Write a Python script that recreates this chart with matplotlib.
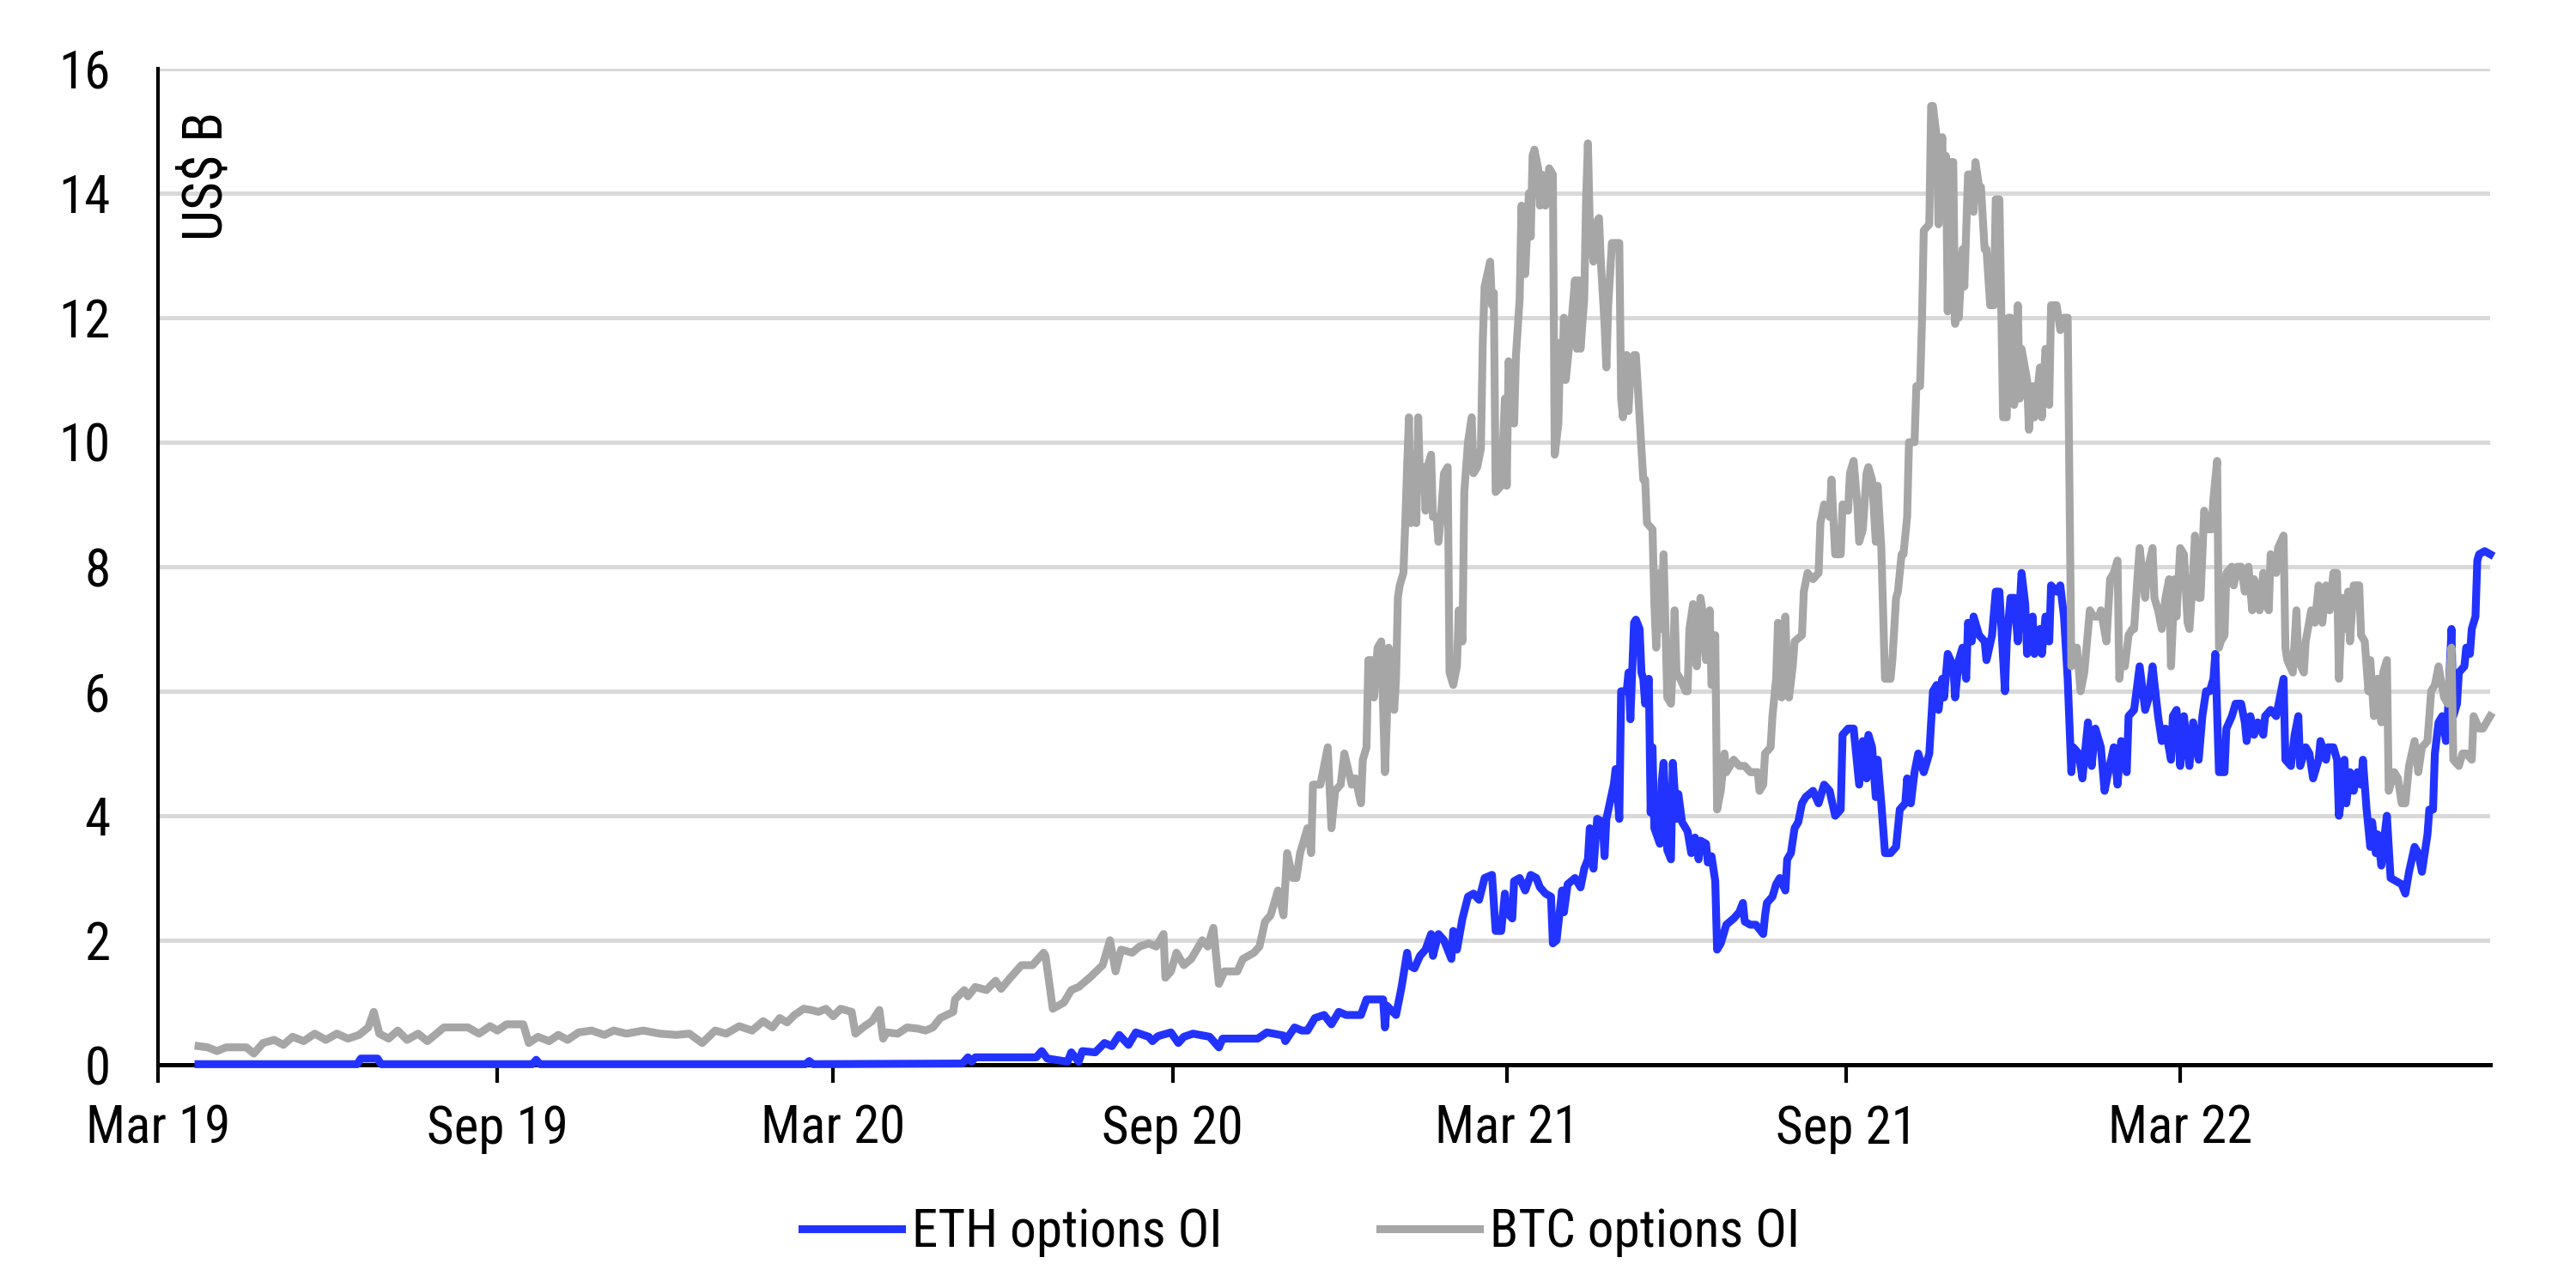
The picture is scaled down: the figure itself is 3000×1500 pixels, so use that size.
import pandas as pd
import matplotlib.pyplot as plt
import matplotlib.dates as mdates

plt.rcParams['font.family'] = ['Liberation Sans Narrow', 'Nimbus Sans Narrow', 'Roboto Condensed',
                               'Liberation Sans', 'DejaVu Sans']

# ETH options open interest, US$ bn
eth_dates = [
    '2019-03-23', '2019-06-17', '2019-06-19', '2019-06-28', '2019-06-30', '2019-09-20', '2019-09-22', '2019-09-24',
    '2020-02-15', '2020-02-17', '2020-02-19', '2020-05-10', '2020-05-13', '2020-05-15', '2020-05-17', '2020-06-19',
    '2020-06-22', '2020-06-25', '2020-07-06', '2020-07-08', '2020-07-12', '2020-07-14', '2020-07-21', '2020-07-26',
    '2020-07-30', '2020-08-03', '2020-08-08', '2020-08-12', '2020-08-19', '2020-08-21', '2020-08-24', '2020-08-31',
    '2020-09-04', '2020-09-07', '2020-09-12', '2020-09-21', '2020-09-26', '2020-09-28', '2020-10-17', '2020-10-22',
    '2020-10-31', '2020-11-01', '2020-11-06', '2020-11-10', '2020-11-13', '2020-11-17', '2020-11-22', '2020-11-26',
    '2020-11-30', '2020-12-04', '2020-12-12', '2020-12-15', '2020-12-24', '2020-12-25', '2020-12-26', '2020-12-31',
    '2021-01-03', '2021-01-06', '2021-01-07', '2021-01-10', '2021-01-13', '2021-01-16', '2021-01-19', '2021-01-20',
    '2021-01-23', '2021-01-26', '2021-01-30', '2021-01-31', '2021-02-02', '2021-02-05', '2021-02-08', '2021-02-11',
    '2021-02-14', '2021-02-17', '2021-02-21', '2021-02-23', '2021-02-26', '2021-02-28', '2021-03-01', '2021-03-04',
    '2021-03-05', '2021-03-08', '2021-03-11', '2021-03-14', '2021-03-17', '2021-03-19', '2021-03-22', '2021-03-25',
    '2021-03-26', '2021-03-28', '2021-03-31', '2021-04-01', '2021-04-03', '2021-04-05', '2021-04-07', '2021-04-10',
    '2021-04-12', '2021-04-14', '2021-04-15', '2021-04-17', '2021-04-19', '2021-04-22', '2021-04-23', '2021-04-24',
    '2021-04-28', '2021-04-29', '2021-05-01', '2021-05-02', '2021-05-05', '2021-05-06', '2021-05-07', '2021-05-09',
    '2021-05-10', '2021-05-12', '2021-05-13', '2021-05-14', '2021-05-15', '2021-05-17', '2021-05-18', '2021-05-19',
    '2021-05-20', '2021-05-23', '2021-05-24', '2021-05-25', '2021-05-27', '2021-05-29', '2021-05-30', '2021-06-01',
    '2021-06-02', '2021-06-04', '2021-06-07', '2021-06-09', '2021-06-11', '2021-06-13', '2021-06-14', '2021-06-17',
    '2021-06-18', '2021-06-20', '2021-06-22', '2021-06-23', '2021-06-25', '2021-06-28', '2021-07-02', '2021-07-05',
    '2021-07-07', '2021-07-08', '2021-07-11', '2021-07-14', '2021-07-18', '2021-07-19', '2021-07-20', '2021-07-23',
    '2021-07-25', '2021-07-27', '2021-07-30', '2021-07-31', '2021-08-02', '2021-08-04', '2021-08-06', '2021-08-08',
    '2021-08-10', '2021-08-14', '2021-08-17', '2021-08-20', '2021-08-23', '2021-08-26', '2021-08-29', '2021-08-30',
    '2021-09-02', '2021-09-05', '2021-09-08', '2021-09-10', '2021-09-12', '2021-09-13', '2021-09-15', '2021-09-17',
    '2021-09-18', '2021-09-20', '2021-09-22', '2021-09-25', '2021-09-28', '2021-09-30', '2021-10-03', '2021-10-04',
    '2021-10-06', '2021-10-08', '2021-10-10', '2021-10-13', '2021-10-16', '2021-10-17', '2021-10-18', '2021-10-20',
    '2021-10-21', '2021-10-23', '2021-10-24', '2021-10-26', '2021-10-29', '2021-10-30', '2021-11-01', '2021-11-03',
    '2021-11-05', '2021-11-06', '2021-11-08', '2021-11-09', '2021-11-12', '2021-11-15', '2021-11-16', '2021-11-19',
    '2021-11-21', '2021-11-23', '2021-11-26', '2021-11-27', '2021-11-29', '2021-12-01', '2021-12-03', '2021-12-05',
    '2021-12-07', '2021-12-08', '2021-12-11', '2021-12-12', '2021-12-15', '2021-12-16', '2021-12-18', '2021-12-20',
    '2021-12-21', '2021-12-24', '2021-12-26', '2021-12-28', '2021-12-30', '2022-01-01', '2022-01-02', '2022-01-05',
    '2022-01-07', '2022-01-10', '2022-01-12', '2022-01-14', '2022-01-17', '2022-01-19', '2022-01-21', '2022-01-24',
    '2022-01-26', '2022-01-28', '2022-01-31', '2022-02-01', '2022-02-04', '2022-02-07', '2022-02-10', '2022-02-12',
    '2022-02-14', '2022-02-17', '2022-02-19', '2022-02-21', '2022-02-24', '2022-02-25', '2022-02-27', '2022-03-01',
    '2022-03-03', '2022-03-06', '2022-03-08', '2022-03-11', '2022-03-13', '2022-03-15', '2022-03-17', '2022-03-19',
    '2022-03-20', '2022-03-22', '2022-03-25', '2022-03-26', '2022-03-29', '2022-03-31', '2022-04-03', '2022-04-05',
    '2022-04-06', '2022-04-08', '2022-04-10', '2022-04-12', '2022-04-15', '2022-04-16', '2022-04-19', '2022-04-22',
    '2022-04-24', '2022-04-26', '2022-04-27', '2022-04-30', '2022-05-02', '2022-05-04', '2022-05-05', '2022-05-08',
    '2022-05-10', '2022-05-12', '2022-05-15', '2022-05-16', '2022-05-19', '2022-05-20', '2022-05-23', '2022-05-25',
    '2022-05-26', '2022-05-27', '2022-05-29', '2022-05-30', '2022-06-01', '2022-06-03', '2022-06-05', '2022-06-07',
    '2022-06-08', '2022-06-10', '2022-06-12', '2022-06-13', '2022-06-15', '2022-06-16', '2022-06-18', '2022-06-19',
    '2022-06-21', '2022-06-23', '2022-06-26', '2022-06-29', '2022-07-01', '2022-07-03', '2022-07-06', '2022-07-08',
    '2022-07-10', '2022-07-12', '2022-07-13', '2022-07-14', '2022-07-16', '2022-07-17', '2022-07-19', '2022-07-21',
    '2022-07-23', '2022-07-24', '2022-07-26', '2022-07-27', '2022-07-29', '2022-07-30', '2022-08-02', '2022-08-03',
    '2022-08-05', '2022-08-06', '2022-08-08', '2022-08-09', '2022-08-10', '2022-08-13', '2022-08-16',
]
eth_oi = [
    0.01, 0.01, 0.10, 0.10, 0.01, 0.01, 0.08, 0.01,
    0.01, 0.06, 0.01, 0.02, 0.12, 0.05, 0.12, 0.12,
    0.22, 0.10, 0.05, 0.20, 0.05, 0.22, 0.20, 0.35,
    0.30, 0.48, 0.32, 0.52, 0.45, 0.38, 0.46, 0.52,
    0.35, 0.45, 0.50, 0.45, 0.28, 0.42, 0.42, 0.52,
    0.47, 0.38, 0.60, 0.55, 0.55, 0.75, 0.80, 0.65,
    0.85, 0.80, 0.80, 1.05, 1.05, 0.60, 0.95, 0.80,
    1.25, 1.80, 1.60, 1.55, 1.75, 1.85, 2.10, 1.75,
    2.10, 2.00, 1.70, 2.15, 1.85, 2.35, 2.70, 2.75,
    2.65, 3.00, 3.05, 2.15, 2.15, 2.75, 2.45, 2.35,
    2.95, 3.00, 2.80, 3.05, 3.00, 2.85, 2.75, 2.70,
    1.95, 2.00, 2.80, 2.45, 2.90, 2.95, 3.00, 2.85,
    3.15, 3.30, 3.80, 3.15, 3.95, 3.90, 3.35, 3.95,
    4.50, 4.75, 3.95, 6.00, 6.00, 6.30, 5.55, 7.10,
    7.15, 7.00, 6.30, 6.20, 5.80, 6.20, 4.05, 5.10,
    3.80, 3.55, 4.55, 4.85, 3.45, 3.30, 4.85, 3.95,
    4.35, 3.90, 3.75, 3.40, 3.65, 3.30, 3.60, 3.55,
    3.25, 3.35, 2.95, 1.85, 1.95, 2.25, 2.35, 2.45,
    2.60, 2.30, 2.25, 2.25, 2.10, 2.40, 2.60, 2.70,
    2.90, 3.00, 2.80, 3.30, 3.40, 3.80, 3.90, 4.20,
    4.30, 4.40, 4.20, 4.50, 4.40, 4.00, 4.10, 5.30,
    5.40, 5.40, 4.50, 5.20, 4.60, 5.30, 5.10, 4.30,
    4.90, 4.20, 3.40, 3.40, 3.50, 4.10, 4.20, 4.60,
    4.20, 4.70, 5.00, 4.70, 5.00, 5.50, 6.00, 6.10,
    5.70, 6.20, 5.90, 6.60, 6.40, 5.90, 6.50, 6.70,
    6.20, 7.10, 6.80, 7.20, 6.90, 6.80, 6.50, 6.90,
    7.60, 7.60, 6.00, 6.80, 7.50, 7.50, 6.80, 7.90,
    7.40, 6.60, 7.20, 6.60, 7.00, 6.60, 7.20, 6.80,
    7.70, 7.60, 7.70, 7.20, 6.20, 4.70, 5.10, 5.00,
    4.60, 5.50, 4.80, 5.40, 5.10, 4.40, 4.70, 5.10,
    4.50, 5.20, 4.70, 5.60, 5.70, 6.40, 5.70, 5.90,
    6.40, 5.60, 5.20, 5.40, 4.90, 5.60, 5.70, 4.80,
    5.60, 4.80, 5.50, 4.90, 5.60, 6.00, 6.00, 6.20,
    6.60, 4.70, 4.70, 5.40, 5.60, 5.80, 5.80, 5.50,
    5.20, 5.60, 5.30, 5.50, 5.30, 5.60, 5.70, 5.60,
    5.90, 6.20, 4.90, 4.80, 5.30, 5.60, 4.80, 5.10,
    5.00, 4.60, 4.90, 5.20, 4.90, 5.10, 5.10, 4.90,
    4.00, 4.20, 4.90, 4.20, 4.70, 4.40, 4.70, 4.50,
    4.90, 4.10, 3.50, 3.90, 3.40, 3.70, 3.20, 3.50,
    4.00, 3.00, 2.95, 2.90, 2.75, 3.10, 3.50, 3.40,
    3.10, 3.50, 3.70, 4.10, 4.10, 5.00, 5.50, 5.60,
    5.20, 5.60, 7.00, 5.60, 5.80, 6.30, 6.40, 6.70,
    6.60, 7.00, 7.20, 8.10, 8.20, 8.25, 8.20,
]

# BTC options open interest, US$ bn
btc_dates = [
    '2019-03-23', '2019-03-28', '2019-04-02', '2019-04-07', '2019-04-18', '2019-04-22', '2019-04-27', '2019-05-03',
    '2019-05-08', '2019-05-13', '2019-05-19', '2019-05-25', '2019-05-31', '2019-06-06', '2019-06-12', '2019-06-18',
    '2019-06-23', '2019-06-26', '2019-06-29', '2019-07-04', '2019-07-09', '2019-07-14', '2019-07-20', '2019-07-25',
    '2019-07-30', '2019-08-03', '2019-08-16', '2019-08-22', '2019-08-28', '2019-09-01', '2019-09-06', '2019-09-15',
    '2019-09-18', '2019-09-23', '2019-09-29', '2019-10-04', '2019-10-09', '2019-10-15', '2019-10-22', '2019-10-29',
    '2019-11-03', '2019-11-10', '2019-11-19', '2019-11-28', '2019-12-07', '2019-12-14', '2019-12-21', '2019-12-28',
    '2020-01-03', '2020-01-10', '2020-01-17', '2020-01-23', '2020-01-28', '2020-02-01', '2020-02-05', '2020-02-09',
    '2020-02-14', '2020-02-18', '2020-02-22', '2020-02-26', '2020-03-01', '2020-03-05', '2020-03-11', '2020-03-13',
    '2020-03-18', '2020-03-22', '2020-03-26', '2020-03-28', '2020-03-30', '2020-04-05', '2020-04-10', '2020-04-16',
    '2020-04-20', '2020-04-24', '2020-04-28', '2020-05-05', '2020-05-06', '2020-05-11', '2020-05-13', '2020-05-17',
    '2020-05-23', '2020-05-28', '2020-05-31', '2020-06-05', '2020-06-11', '2020-06-17', '2020-06-23', '2020-06-24',
    '2020-06-28', '2020-07-04', '2020-07-08', '2020-07-12', '2020-07-18', '2020-07-25', '2020-07-29', '2020-08-01',
    '2020-08-04', '2020-08-10', '2020-08-14', '2020-08-19', '2020-08-23', '2020-08-27', '2020-08-28', '2020-08-31',
    '2020-09-03', '2020-09-07', '2020-09-11', '2020-09-17', '2020-09-20', '2020-09-23', '2020-09-26', '2020-09-29',
    '2020-10-06', '2020-10-09', '2020-10-15', '2020-10-18', '2020-10-21', '2020-10-24', '2020-10-28', '2020-10-31',
    '2020-11-02', '2020-11-05', '2020-11-07', '2020-11-09', '2020-11-13', '2020-11-15', '2020-11-16', '2020-11-20',
    '2020-11-24', '2020-11-26', '2020-11-28', '2020-12-01', '2020-12-03', '2020-12-07', '2020-12-09', '2020-12-12',
    '2020-12-13', '2020-12-15', '2020-12-16', '2020-12-18', '2020-12-19', '2020-12-21', '2020-12-23', '2020-12-25',
    '2020-12-26', '2020-12-27', '2020-12-30', '2020-12-31', '2021-01-01', '2021-01-02', '2021-01-04', '2021-01-05',
    '2021-01-06', '2021-01-07', '2021-01-08', '2021-01-10', '2021-01-11', '2021-01-12', '2021-01-13', '2021-01-15',
    '2021-01-16', '2021-01-17', '2021-01-19', '2021-01-20', '2021-01-22', '2021-01-23', '2021-01-24', '2021-01-26',
    '2021-01-28', '2021-01-29', '2021-01-31', '2021-02-02', '2021-02-03', '2021-02-05', '2021-02-06', '2021-02-08',
    '2021-02-10', '2021-02-11', '2021-02-13', '2021-02-15', '2021-02-16', '2021-02-17', '2021-02-20', '2021-02-21',
    '2021-02-22', '2021-02-23', '2021-02-26', '2021-02-28', '2021-03-01', '2021-03-02', '2021-03-04', '2021-03-05',
    '2021-03-06', '2021-03-08', '2021-03-09', '2021-03-11', '2021-03-13', '2021-03-14', '2021-03-15', '2021-03-16',
    '2021-03-18', '2021-03-19', '2021-03-20', '2021-03-22', '2021-03-24', '2021-03-26', '2021-03-27', '2021-03-29',
    '2021-03-30', '2021-03-31', '2021-04-01', '2021-04-02', '2021-04-03', '2021-04-05', '2021-04-07', '2021-04-08',
    '2021-04-09', '2021-04-10', '2021-04-12', '2021-04-13', '2021-04-14', '2021-04-15', '2021-04-17', '2021-04-18',
    '2021-04-20', '2021-04-21', '2021-04-23', '2021-04-24', '2021-04-25', '2021-04-27', '2021-05-01', '2021-05-02',
    '2021-05-03', '2021-05-05', '2021-05-06', '2021-05-07', '2021-05-09', '2021-05-10', '2021-05-12', '2021-05-14',
    '2021-05-15', '2021-05-16', '2021-05-19', '2021-05-20', '2021-05-21', '2021-05-23', '2021-05-24', '2021-05-25',
    '2021-05-27', '2021-05-29', '2021-05-30', '2021-05-31', '2021-06-01', '2021-06-03', '2021-06-06', '2021-06-07',
    '2021-06-08', '2021-06-10', '2021-06-12', '2021-06-14', '2021-06-15', '2021-06-17', '2021-06-19', '2021-06-20',
    '2021-06-22', '2021-06-23', '2021-06-25', '2021-06-27', '2021-06-28', '2021-07-02', '2021-07-05', '2021-07-08',
    '2021-07-11', '2021-07-15', '2021-07-16', '2021-07-18', '2021-07-19', '2021-07-22', '2021-07-23', '2021-07-25',
    '2021-07-26', '2021-07-28', '2021-07-30', '2021-07-31', '2021-08-01', '2021-08-03', '2021-08-04', '2021-08-08',
    '2021-08-09', '2021-08-11', '2021-08-14', '2021-08-17', '2021-08-18', '2021-08-20', '2021-08-23', '2021-08-24',
    '2021-08-26', '2021-08-29', '2021-08-30', '2021-09-02', '2021-09-03', '2021-09-05', '2021-09-07', '2021-09-08',
    '2021-09-10', '2021-09-12', '2021-09-13', '2021-09-15', '2021-09-17', '2021-09-18', '2021-09-20', '2021-09-22',
    '2021-09-25', '2021-09-26', '2021-09-28', '2021-09-29', '2021-10-01', '2021-10-02', '2021-10-04', '2021-10-05',
    '2021-10-08', '2021-10-09', '2021-10-11', '2021-10-12', '2021-10-13', '2021-10-16', '2021-10-17', '2021-10-18',
    '2021-10-20', '2021-10-21', '2021-10-23', '2021-10-24', '2021-10-25', '2021-10-26', '2021-10-27', '2021-10-29',
    '2021-10-30', '2021-10-31', '2021-11-01', '2021-11-03', '2021-11-04', '2021-11-06', '2021-11-08', '2021-11-09',
    '2021-11-10', '2021-11-12', '2021-11-13', '2021-11-15', '2021-11-16', '2021-11-18', '2021-11-20', '2021-11-21',
    '2021-11-23', '2021-11-25', '2021-11-27', '2021-11-28', '2021-11-29', '2021-12-01', '2021-12-03', '2021-12-04',
    '2021-12-05', '2021-12-08', '2021-12-09', '2021-12-11', '2021-12-12', '2021-12-15', '2021-12-16', '2021-12-18',
    '2021-12-20', '2021-12-21', '2021-12-24', '2021-12-26', '2021-12-28', '2021-12-30', '2022-01-01', '2022-01-02',
    '2022-01-04', '2022-01-06', '2022-01-08', '2022-01-11', '2022-01-13', '2022-01-16', '2022-01-17', '2022-01-20',
    '2022-01-22', '2022-01-24', '2022-01-26', '2022-01-27', '2022-01-28', '2022-01-30', '2022-02-01', '2022-02-03',
    '2022-02-04', '2022-02-06', '2022-02-07', '2022-02-10', '2022-02-11', '2022-02-14', '2022-02-15', '2022-02-17',
    '2022-02-19', '2022-02-21', '2022-02-23', '2022-02-24', '2022-02-26', '2022-02-27', '2022-03-01', '2022-03-03',
    '2022-03-05', '2022-03-06', '2022-03-08', '2022-03-09', '2022-03-11', '2022-03-12', '2022-03-14', '2022-03-16',
    '2022-03-18', '2022-03-19', '2022-03-21', '2022-03-22', '2022-03-23', '2022-03-25', '2022-03-26', '2022-03-29',
    '2022-03-30', '2022-04-01', '2022-04-03', '2022-04-05', '2022-04-07', '2022-04-09', '2022-04-10', '2022-04-12',
    '2022-04-13', '2022-04-15', '2022-04-16', '2022-04-18', '2022-04-19', '2022-04-20', '2022-04-22', '2022-04-23',
    '2022-04-26', '2022-04-27', '2022-04-28', '2022-05-01', '2022-05-02', '2022-05-03', '2022-05-04', '2022-05-07',
    '2022-05-08', '2022-05-11', '2022-05-13', '2022-05-15', '2022-05-17', '2022-05-19', '2022-05-21', '2022-05-23',
    '2022-05-25', '2022-05-26', '2022-05-28', '2022-05-29', '2022-05-31', '2022-06-01', '2022-06-03', '2022-06-06',
    '2022-06-07', '2022-06-09', '2022-06-11', '2022-06-12', '2022-06-14', '2022-06-16', '2022-06-18', '2022-06-19',
    '2022-06-21', '2022-06-22', '2022-06-25', '2022-06-27', '2022-06-29', '2022-07-01', '2022-07-03', '2022-07-06',
    '2022-07-08', '2022-07-10', '2022-07-13', '2022-07-15', '2022-07-17', '2022-07-19', '2022-07-22', '2022-07-24',
    '2022-07-26', '2022-07-27', '2022-07-30', '2022-08-01', '2022-08-03', '2022-08-06', '2022-08-07', '2022-08-10',
    '2022-08-12', '2022-08-14', '2022-08-16',
]
btc_oi = [
    0.30, 0.28, 0.22, 0.28, 0.28, 0.18, 0.35, 0.40,
    0.32, 0.45, 0.38, 0.50, 0.40, 0.50, 0.42, 0.48,
    0.60, 0.85, 0.50, 0.42, 0.55, 0.40, 0.50, 0.38,
    0.50, 0.60, 0.60, 0.50, 0.62, 0.55, 0.65, 0.65,
    0.35, 0.45, 0.38, 0.48, 0.40, 0.52, 0.55, 0.48,
    0.55, 0.50, 0.55, 0.50, 0.48, 0.50, 0.35, 0.55,
    0.50, 0.62, 0.55, 0.70, 0.60, 0.75, 0.68, 0.80,
    0.90, 0.88, 0.85, 0.90, 0.78, 0.90, 0.85, 0.50,
    0.62, 0.70, 0.88, 0.42, 0.52, 0.50, 0.60, 0.58,
    0.55, 0.60, 0.75, 0.85, 1.05, 1.20, 1.10, 1.25,
    1.20, 1.35, 1.22, 1.40, 1.60, 1.60, 1.80, 1.75,
    0.90, 1.00, 1.20, 1.25, 1.40, 1.60, 2.00, 1.50,
    1.85, 1.80, 1.90, 1.95, 1.90, 2.10, 1.40, 1.50,
    1.80, 1.60, 1.70, 2.00, 1.90, 2.20, 1.30, 1.50,
    1.50, 1.70, 1.80, 1.90, 2.30, 2.40, 2.80, 2.40,
    3.40, 3.00, 3.00, 3.40, 3.80, 3.40, 4.50, 4.50,
    5.10, 3.80, 4.40, 4.50, 5.00, 4.50, 4.60, 4.20,
    4.90, 5.10, 6.50, 6.50, 5.90, 6.70, 6.80, 4.70,
    5.50, 6.70, 5.70, 6.20, 7.50, 7.70, 7.90, 8.70,
    9.60, 10.40, 8.70, 9.80, 8.70, 10.40, 9.40, 9.60,
    8.90, 9.60, 9.80, 8.80, 8.80, 8.40, 8.70, 9.50,
    9.60, 6.30, 6.10, 6.40, 7.30, 6.80, 9.20, 10.00,
    10.40, 9.50, 9.60, 9.90, 11.60, 12.50, 12.90, 12.20,
    12.40, 9.20, 9.30, 10.70, 9.30, 11.30, 10.50, 10.30,
    11.40, 12.30, 13.80, 12.70, 14.00, 13.30, 14.60, 14.70,
    14.40, 13.80, 14.30, 13.80, 14.40, 14.30, 9.80, 10.30,
    11.60, 11.00, 12.00, 11.00, 11.30, 11.90, 12.60, 11.50,
    12.60, 11.50, 12.30, 13.90, 14.80, 13.50, 12.90, 13.50,
    13.60, 12.90, 11.90, 11.20, 12.20, 13.20, 13.20, 10.70,
    10.40, 11.40, 10.50, 11.10, 11.40, 11.40, 10.40, 9.40,
    9.40, 8.70, 8.60, 7.40, 6.70, 7.90, 7.00, 8.20,
    5.90, 5.80, 6.40, 7.30, 6.30, 6.20, 6.00, 6.00,
    7.00, 7.40, 6.40, 7.50, 7.30, 6.50, 7.30, 6.10,
    6.90, 4.10, 4.40, 5.00, 4.70, 4.90, 4.80, 4.80,
    4.70, 4.70, 4.40, 4.50, 5.00, 5.10, 5.60, 6.20,
    7.10, 5.90, 7.20, 6.20, 5.90, 6.40, 6.80, 6.90,
    7.60, 7.90, 7.80, 7.90, 8.70, 9.00, 8.80, 9.40,
    8.20, 8.20, 9.00, 8.90, 9.50, 9.70, 9.00, 8.40,
    8.60, 9.50, 9.60, 9.40, 8.40, 9.30, 8.30, 6.20,
    6.20, 6.50, 7.50, 7.60, 8.20, 8.20, 8.80, 10.00,
    10.00, 10.90, 10.90, 11.90, 13.40, 13.50, 15.40, 15.40,
    14.90, 13.50, 14.90, 13.80, 14.60, 12.10, 14.50, 14.50,
    11.90, 13.00, 12.00, 13.10, 12.50, 14.30, 14.30, 13.70,
    14.50, 14.10, 14.10, 13.10, 13.10, 12.20, 12.20, 13.90,
    13.90, 10.40, 10.40, 12.00, 12.00, 10.60, 12.20, 10.70,
    11.50, 11.00, 10.20, 10.90, 10.40, 11.20, 10.40, 11.50,
    10.60, 12.20, 12.20, 11.80, 12.00, 12.00, 6.40, 6.70,
    6.70, 6.00, 6.30, 7.30, 7.20, 7.20, 7.30, 6.80,
    7.80, 7.90, 8.10, 6.20, 6.50, 6.40, 6.90, 7.00,
    7.00, 7.90, 8.30, 7.50, 7.90, 8.30, 7.50, 7.30,
    7.00, 7.50, 7.80, 6.40, 7.80, 7.20, 8.30, 8.20,
    7.10, 7.00, 7.90, 8.50, 7.50, 7.50, 8.90, 8.60,
    8.60, 9.10, 9.70, 6.70, 6.80, 6.90, 7.90, 8.00,
    7.70, 8.00, 8.00, 7.60, 8.00, 7.30, 7.80, 7.50,
    7.30, 7.90, 7.40, 7.30, 8.20, 8.00, 7.90, 8.30,
    8.50, 6.70, 6.50, 6.30, 6.80, 7.30, 6.50, 6.30,
    6.80, 7.30, 7.10, 7.70, 7.10, 7.70, 7.30, 7.90,
    7.90, 6.20, 7.50, 7.00, 7.60, 6.80, 7.70, 7.70,
    6.90, 6.80, 6.00, 6.50, 5.60, 6.20, 5.50, 6.30,
    6.50, 4.40, 4.70, 4.60, 4.20, 4.20, 4.80, 5.20,
    4.70, 5.10, 5.20, 6.00, 6.10, 6.40, 5.90, 5.80,
    6.70, 4.90, 4.80, 5.00, 5.00, 4.90, 5.60, 5.40,
    5.40, 5.50, 5.60,
]

fig, ax = plt.subplots(figsize=(15, 7.5), dpi=200)
fig.subplots_adjust(left=0.0613, right=0.9667, top=0.9467, bottom=0.1733)

ax.plot(pd.to_datetime(eth_dates), eth_oi, color='#2233ff', lw=3.3,
        label='ETH options OI', zorder=3, clip_on=False)
ax.plot(pd.to_datetime(btc_dates), btc_oi, color='#a6a6a6', lw=3.3,
        label='BTC options OI', zorder=3, clip_on=False)

ax.set_xlim(pd.Timestamp('2019-03-01'), pd.Timestamp('2022-08-16'))
ax.set_ylim(0, 16)
ax.set_yticks(range(0, 17, 2))
ax.xaxis.set_major_locator(mdates.MonthLocator(bymonth=[3, 9]))
ax.xaxis.set_major_formatter(mdates.DateFormatter('%b %y'))

ax.grid(axis='y', color='#d9d9d9', lw=1.8)
ax.set_axisbelow(True)
for side in ['top', 'right']:
    ax.spines[side].set_visible(False)
ax.spines['left'].set_linewidth(1.5)
ax.spines['bottom'].set_linewidth(1.8)

ax.tick_params(axis='y', length=0, pad=20, labelsize=22)
ax.tick_params(axis='x', length=7.5, width=1.5, pad=9, labelsize=22)

ax.text(0.021, 0.957, 'US$ B', transform=ax.transAxes, rotation=90,
        ha='center', va='top', fontsize=23)

fig.legend(loc='center', bbox_to_anchor=(0.505, 0.043), ncol=2, frameon=False,
           fontsize=22, handlelength=1.9, handletextpad=0.2, columnspacing=3.0)

fig.savefig('out.png', dpi=200)
